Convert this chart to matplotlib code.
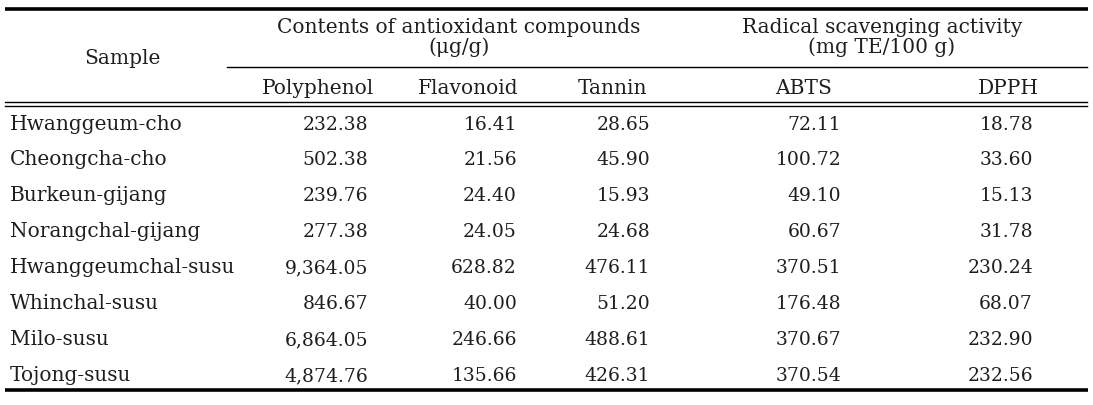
import matplotlib.pyplot as plt

samples = ["Hwanggeum-cho", "Cheongcha-cho", "Burkeun-gijang", "Norangchal-gijang",
           "Hwanggeumchal-susu", "Whinchal-susu", "Milo-susu", "Tojong-susu"]
polyphenol = ["232.38", "502.38", "239.76", "277.38", "9,364.05", "846.67", "6,864.05", "4,874.76"]
flavonoid = ["16.41", "21.56", "24.40", "24.05", "628.82", "40.00", "246.66", "135.66"]
tannin = ["28.65", "45.90", "15.93", "24.68", "476.11", "51.20", "488.61", "426.31"]
abts = ["72.11", "100.72", "49.10", "60.67", "370.51", "176.48", "370.67", "370.54"]
dpph = ["18.78", "33.60", "15.13", "31.78", "230.24", "68.07", "232.90", "232.56"]

col_names = ["Polyphenol", "Flavonoid", "Tannin", "ABTS", "DPPH"]

plt.rcParams['font.family'] = ['DejaVu Serif']
fs_lab = 14.5   # words
fs_num = 13.5   # numbers
tc = '#1e1e1e'

fig = plt.figure(figsize=(10.93, 4.06), dpi=100)
ax = fig.add_axes([0, 0, 1, 1])
ax.set_xlim(0, 1093)
ax.set_ylim(406, 0)
ax.axis('off')

# rules
ax.plot([5, 1088], [9.5, 9.5], color='black', lw=2.6, solid_capstyle='butt')
ax.plot([227, 1087], [68, 68], color='black', lw=1.0)
ax.plot([5, 1087], [103, 103], color='black', lw=1.0)
ax.plot([5, 1087], [106.5, 106.5], color='black', lw=1.0)
ax.plot([5, 1088], [391, 391], color='black', lw=2.6, solid_capstyle='butt')

# header
ax.text(122, 64, "Sample", fontsize=fs_lab, ha='center', va='baseline', color=tc)
ax.text(459, 33, "Contents of antioxidant compounds", fontsize=fs_lab, ha='center', va='baseline', color=tc)
ax.text(459, 53, "(\u03bcg/g)", fontsize=fs_lab, ha='center', va='baseline', color=tc)
ax.text(882, 33, "Radical scavenging activity", fontsize=fs_lab, ha='center', va='baseline', color=tc)
ax.text(882, 53, "(mg TE/100 g)", fontsize=fs_lab, ha='center', va='baseline', color=tc)

head_x = [318, 468, 612, 804, 1008]
for x, name in zip(head_x, col_names):
    ax.text(x, 94, name, fontsize=fs_lab, ha='center', va='baseline', color=tc)

# body
row_base = [130, 165, 201, 237, 273, 309, 345, 381]
right_x = [368, 517, 650, 841, 1033]
columns = [polyphenol, flavonoid, tannin, abts, dpph]
for i, y in enumerate(row_base):
    ax.text(10, y, samples[i], fontsize=fs_lab, ha='left', va='baseline', color=tc)
    for x, col in zip(right_x, columns):
        ax.text(x, y, col[i], fontsize=fs_num, ha='right', va='baseline', color=tc)

fig.savefig("out.png", dpi=100)
